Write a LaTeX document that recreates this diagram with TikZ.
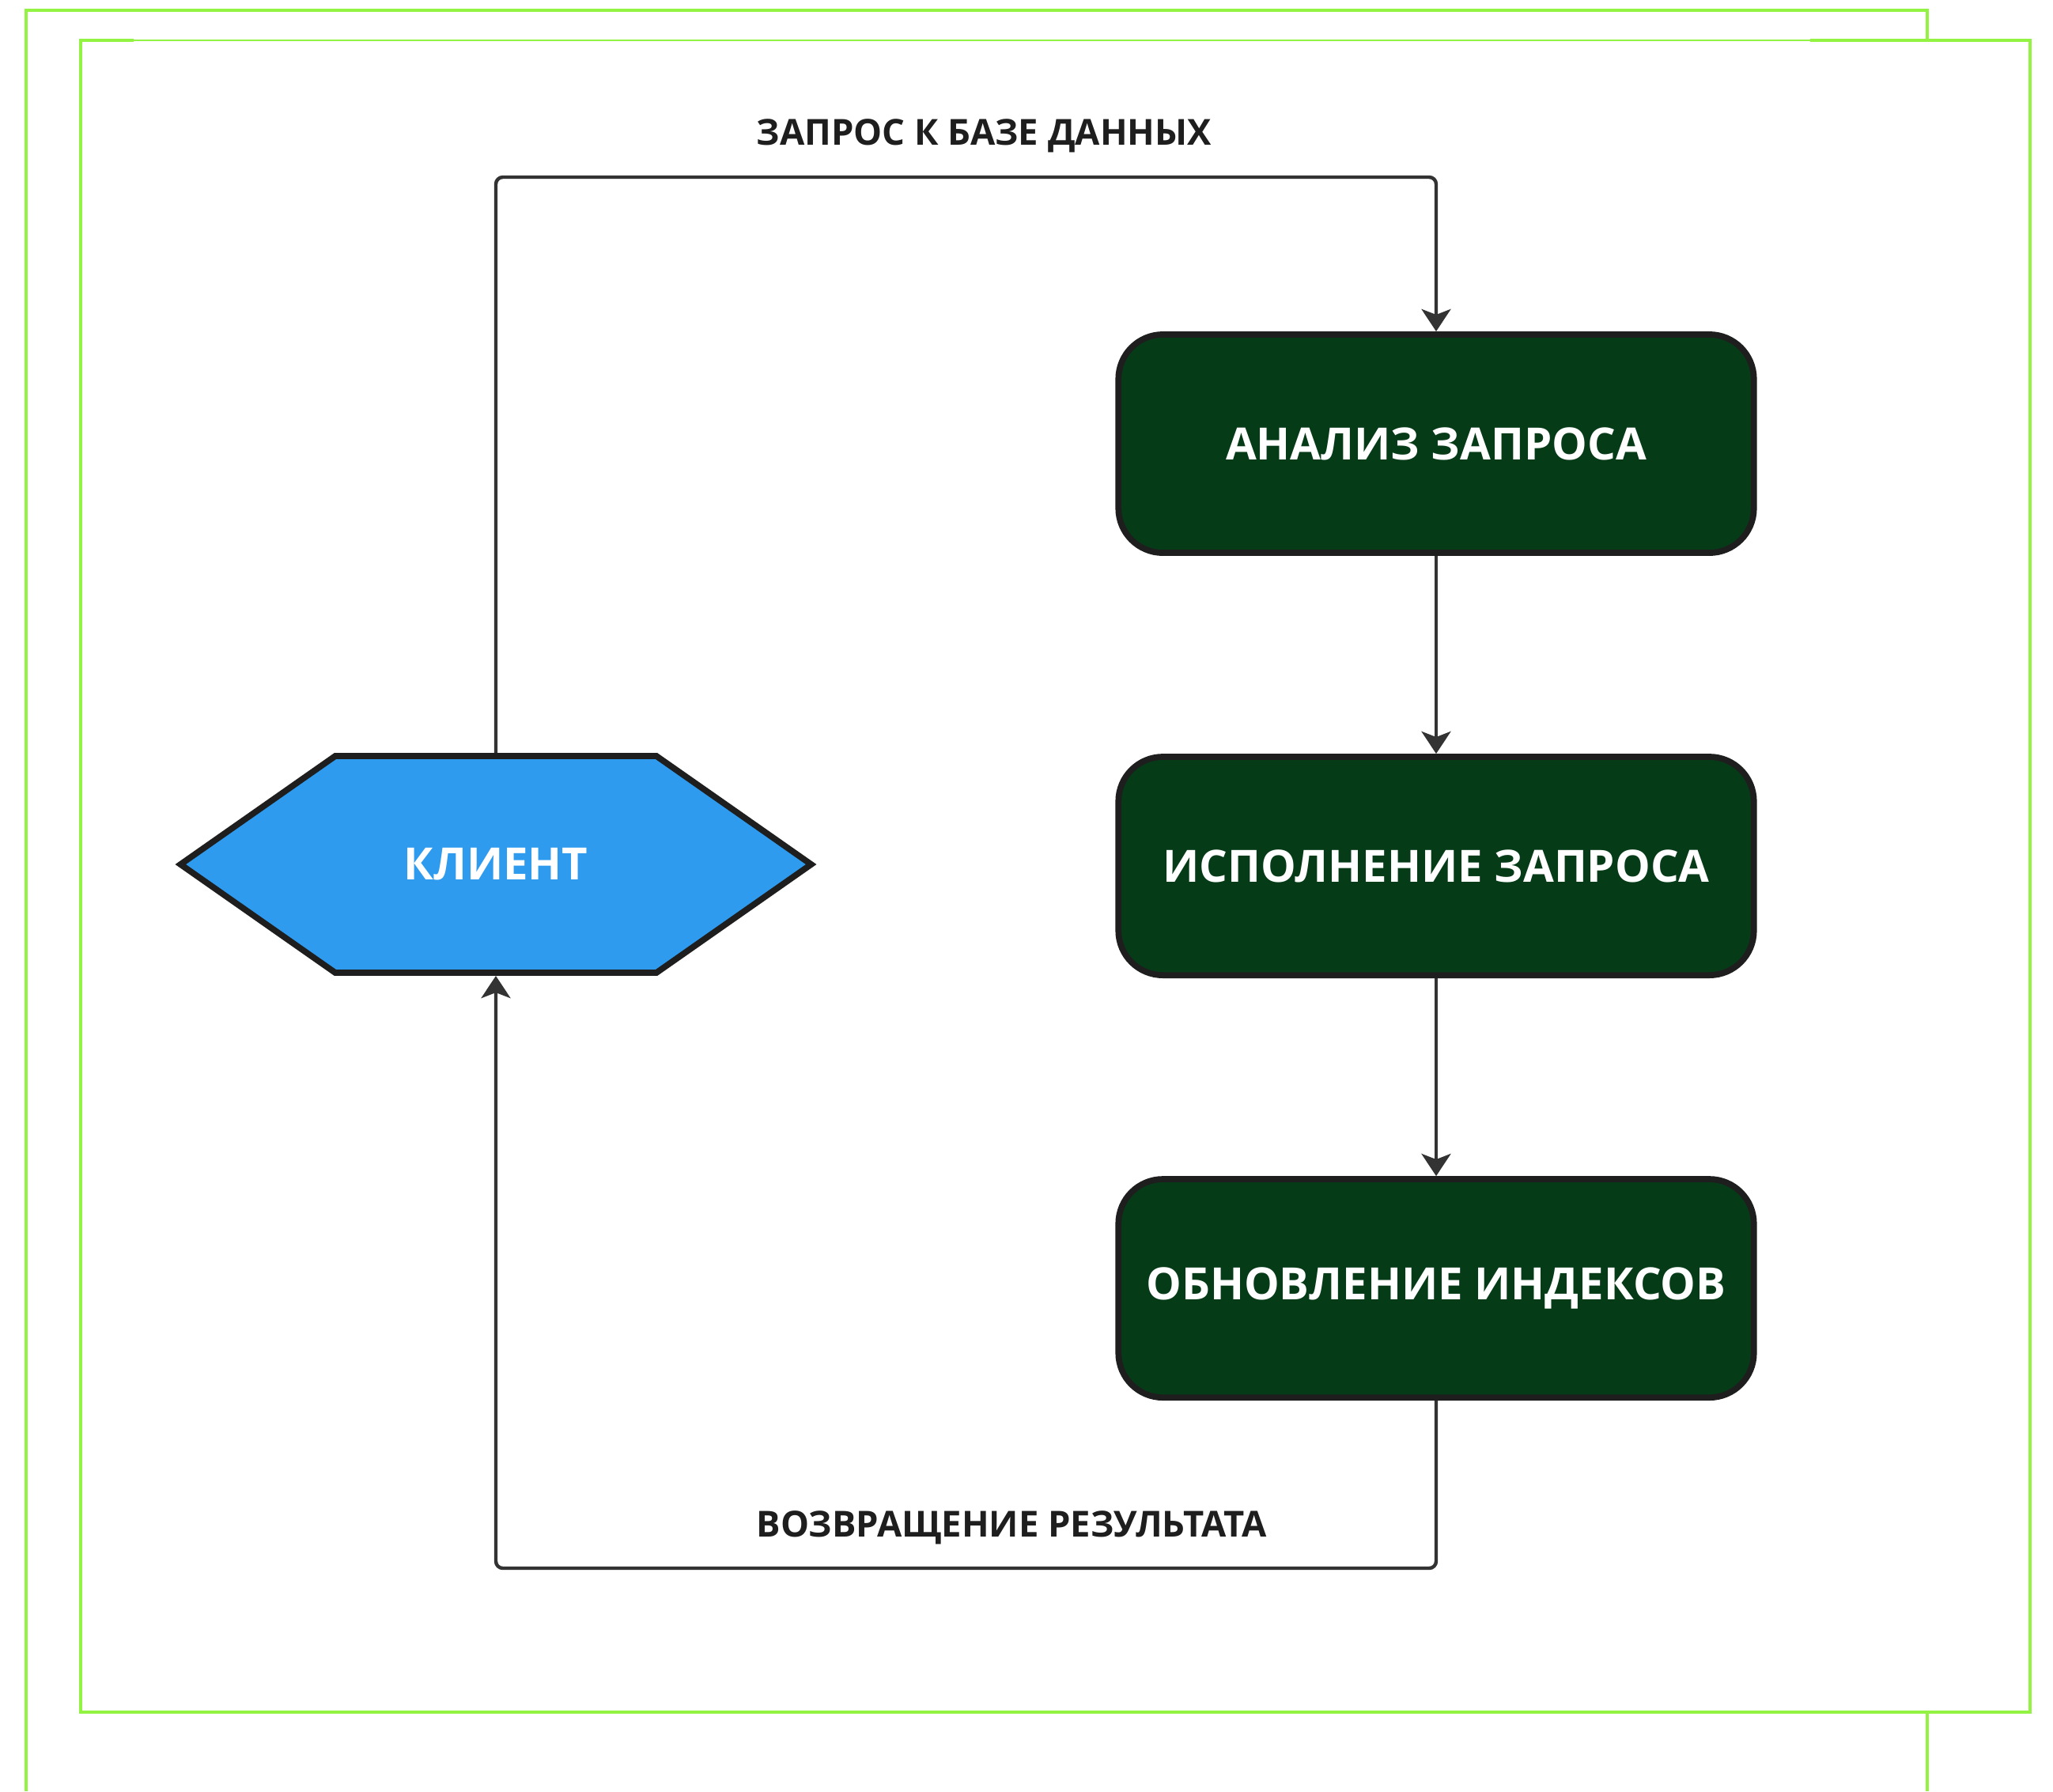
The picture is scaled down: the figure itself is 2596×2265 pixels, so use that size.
\documentclass[tikz,border=0pt]{standalone}
\usepackage{fontspec}
\setmainfont{Open Sans}
\usepackage{tikz}
\usetikzlibrary{arrows.meta,positioning,shapes.symbols}
\definecolor{rahmengruen}{RGB}{146,243,66}
\definecolor{dunkelgruen}{RGB}{6,59,24}
\definecolor{hellblau}{RGB}{46,155,239}
\definecolor{rand}{RGB}{30,30,30}
\definecolor{linie}{RGB}{51,51,51}
\tikzset{
    %Define standard arrow tip
    >={Stealth[length=8pt,width=10.5pt,inset=2pt]},
    %Define style for boxes
    punkt/.style={
           rectangle,
           rounded corners=16pt,
           draw=rand, line width=2.2pt,
           fill=dunkelgruen,
           text=white,
           minimum width=8.03cm,
           minimum height=2.76cm,
           inner sep=0pt,
           font=\fontsize{16}{19}\selectfont\bfseries,
           text centered},
    %Define style for the client
    kunde/.style={
           signal, signal to=east and west,
           signal pointer angle=70,
           draw=rand, line width=2.2pt,
           fill=hellblau,
           text=white,
           minimum width=7.97cm,
           minimum height=2.74cm,
           inner sep=0pt,
           font=\fontsize{16}{19}\selectfont\bfseries},
    %Define style for the labels
    metka/.style={
           text=rand,
           inner sep=0pt,
           anchor=base west,
           font=\fontsize{12.9}{15}\selectfont\bfseries},
    % Define arrow style
    pil/.style={
           ->,
           draw=linie,
           line width=1.25pt,
           rounded corners=2.5pt},
    rahmen/.style={
           draw=rahmengruen,
           line width=1.15pt}
}
\begin{document}
\begin{tikzpicture}[x=0.01cm, y=-0.01cm, node distance=2.5cm]
\useasboundingbox (0,0) rectangle (2596,2265);

%green frames
\draw[rahmen] (33,2265) -- (33,13) -- (2437,13) -- (2437,2265);
\fill[white] (102,51) rectangle (2567,2165);
\draw[rahmen] (169,51) -| (102,2165) -| (2567,51) -- (2289,51);
\draw[rahmen, line width=0.3pt] (169,51) -- (2289,51);

%client
\node[kunde] (klient) at (627,1093) {КЛИЕНТ};

%steps, one below the other
\node[punkt] (analiz) at (1816,561) {АНАЛИЗ ЗАПРОСА};
\node[punkt, below=of analiz] (ispoln) {ИСПОЛНЕНИЕ ЗАПРОСА};
\node[punkt, below=of ispoln] (obnov) {ОБНОВЛЕНИЕ ИНДЕКСОВ};

%labels
\node[metka] (zapros) at (956,183) {ЗАПРОС К БАЗЕ ДАННЫХ};
\node[metka] (vozvrat) at (956,1943) {ВОЗВРАЩЕНИЕ РЕЗУЛЬТАТА};
\coordinate (verh) at (627,224);
\coordinate (niz) at (627,1983);

%connectors
\draw[pil] (klient.north) -- (verh) -| (analiz.north);
\draw[pil] (analiz) -- (ispoln);
\draw[pil] (ispoln) -- (obnov);
\draw[pil] (obnov.south) |- (niz) -- (klient.south);

\end{tikzpicture}
\end{document}
